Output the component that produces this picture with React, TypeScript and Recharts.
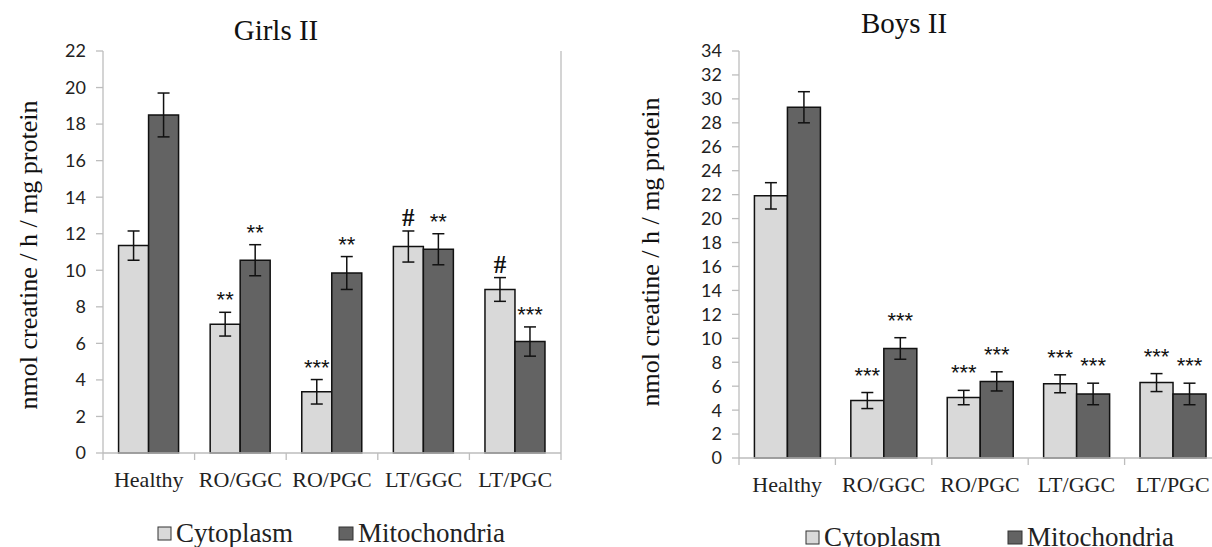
import React from 'react';
import { BarChart, Bar, XAxis, YAxis, ErrorBar, LabelList } from 'recharts';

const categories = ['Healthy', 'RO/GGC', 'RO/PGC', 'LT/GGC', 'LT/PGC'];

const girlsCytoplasm = [11.35, 7.05, 3.35, 11.3, 8.95];
const girlsCytoplasmErr = [0.8, 0.65, 0.67, 0.85, 0.65];
const girlsMitochondria = [18.5, 10.55, 9.85, 11.15, 6.1];
const girlsMitochondriaErr = [1.2, 0.85, 0.9, 0.85, 0.8];
const girlsCytoplasmMarks = ['', '**', '***', '#', '#'];
const girlsMitochondriaMarks = ['', '**', '**', '**', '***'];
const girlsTicks = [0, 2, 4, 6, 8, 10, 12, 14, 16, 18, 20, 22];

const boysCytoplasm = [21.9, 4.8, 5.05, 6.2, 6.3];
const boysCytoplasmErr = [1.1, 0.67, 0.6, 0.75, 0.75];
const boysMitochondria = [29.3, 9.15, 6.4, 5.35, 5.35];
const boysMitochondriaErr = [1.3, 0.9, 0.8, 0.9, 0.9];
const boysCytoplasmMarks = ['', '***', '***', '***', '***'];
const boysMitochondriaMarks = ['', '***', '***', '***', '***'];
const boysTicks = [0, 2, 4, 6, 8, 10, 12, 14, 16, 18, 20, 22, 24, 26, 28, 30, 32, 34];

const seriesNames = ['Cytoplasm', 'Mitochondria'];
const titles = ['Girls II', 'Boys II'];
const yAxisTitle = 'nmol creatine / h / mg protein';

const CYTO = '#d9d9d9';
const MITO = '#636363';
const AXIS = '#bdbdbd';
const SERIF = "'Liberation Serif', 'Times New Roman', Times, serif";
const SANS = 'Lato';

function buildData(cyto: number[], cytoErr: number[], mito: number[], mitoErr: number[]) {
  return categories.map((c, i) => ({
    name: c,
    cyto: cyto[i],
    cytoErr: cytoErr[i],
    mito: mito[i],
    mitoErr: mitoErr[i],
  }));
}

const CatTick = (props: any) => {
  const { x, y, payload, index, visibleTicksCount } = props;
  const half = payload && payload.offset ? payload.offset : 0;
  const isLast = index === (visibleTicksCount ?? 5) - 1;
  return (
    <g>
      <line x1={x - half} y1={y} x2={x - half} y2={y + 7} stroke={AXIS} strokeWidth={1.3} />
      {isLast && <line x1={x + half} y1={y} x2={x + half} y2={y + 7} stroke={AXIS} strokeWidth={1.3} />}
      <text x={x} y={y + 34} textAnchor="middle" fontFamily={SERIF} fontSize={22} fill="#222">
        {payload.value}
      </text>
    </g>
  );
};

const makeMark = (marks: string[], errs: number[], gap: number) => (props: any) => {
  const { x, y, width, height, value, index } = props;
  const mark = marks[index];
  if (!mark || !value) return null;
  const perUnit = height / value;
  const errTop = y - errs[index] * perUnit;
  const cx = x + width / 2;
  if (mark === '#') {
    return (
      <text x={cx} y={errTop - 13 + 8} textAnchor="middle" fontFamily={SERIF} fontSize={25} fontWeight={700} fill="#111">
        {mark}
      </text>
    );
  }
  return (
    <text x={cx} y={errTop - gap + 13} textAnchor="middle" fontFamily="Liberation Sans" fontSize={22} fill="#111">
      {mark}
    </text>
  );
};

type PanelProps = {
  data: any[];
  ticks: number[];
  width: number;
  margin: { top: number; right: number; bottom: number; left: number };
  cytoMarks: string[];
  mitoMarks: string[];
  cytoErr: number[];
  mitoErr: number[];
  starGap: number;
  gap: string;
};

function Panel(p: PanelProps) {
  const max = p.ticks[p.ticks.length - 1];
  return (
    <BarChart width={p.width} height={547} data={p.data} margin={p.margin} barCategoryGap={p.gap} barGap={0}>
      <XAxis
        xAxisId="top"
        orientation="top"
        dataKey="name"
        height={0}
        tick={false}
        tickLine={false}
        axisLine={{ stroke: AXIS, strokeWidth: 1.3 }}
      />
      <YAxis
        yAxisId="right"
        orientation="right"
        width={1}
        tick={false}
        tickLine={false}
        axisLine={{ stroke: AXIS, strokeWidth: 1.3 }}
        domain={[0, max]}
      />
      <XAxis
        dataKey="name"
        height={30}
        tickSize={0}
        tickMargin={0}
        interval={0}
        axisLine={{ stroke: AXIS, strokeWidth: 1.3 }}
        tick={<CatTick />}
      />
      <YAxis
        width={60}
        domain={[0, max]}
        ticks={p.ticks}
        interval={0}
        tickSize={7}
        tickMargin={10}
        axisLine={{ stroke: AXIS, strokeWidth: 1.3 }}
        tickLine={{ stroke: AXIS, strokeWidth: 1.3 }}
        tick={{ fontFamily: SANS, fontSize: 18, fill: '#222' }}
      />
      <Bar dataKey="cyto" name={seriesNames[0]} fill={CYTO} stroke="#111" strokeWidth={1.5} isAnimationActive={false}>
        <ErrorBar dataKey="cytoErr" width={6} stroke="#111" strokeWidth={1.5} direction="y" />
        <LabelList content={makeMark(p.cytoMarks, p.cytoErr, p.starGap) as any} />
      </Bar>
      <Bar dataKey="mito" name={seriesNames[1]} fill={MITO} stroke="#111" strokeWidth={1.5} isAnimationActive={false}>
        <ErrorBar dataKey="mitoErr" width={6} stroke="#111" strokeWidth={1.5} direction="y" />
        <LabelList content={makeMark(p.mitoMarks, p.mitoErr, p.starGap) as any} />
      </Bar>
    </BarChart>
  );
}

const LegendSvg = ({ x1, x2, cy }: { x1: number; x2: number; cy: number }) => (
  <g>
    <rect x={x1} y={cy - 6} width={13} height={13} fill={CYTO} stroke="#333" strokeWidth={1} />
    <text x={x1 + 18} y={cy + 9} fontFamily={SERIF} fontSize={27} fill="#222">{seriesNames[0]}</text>
    <rect x={x2} y={cy - 6} width={14} height={13} fill={MITO} stroke="#333" strokeWidth={1} />
    <text x={x2 + 19} y={cy + 9} fontFamily={SERIF} fontSize={27} fill="#222">{seriesNames[1]}</text>
  </g>
);

export default function App() {
  const girlsData = buildData(girlsCytoplasm, girlsCytoplasmErr, girlsMitochondria, girlsMitochondriaErr);
  const boysData = buildData(boysCytoplasm, boysCytoplasmErr, boysMitochondria, boysMitochondriaErr);
  return (
    <div style={{ position: 'absolute', left: 0, top: 0, width: 1212, height: 547, overflow: 'hidden', background: '#fff' }}>
      <div style={{ position: 'absolute', left: 0, top: 0 }}>
        <Panel
          data={girlsData}
          ticks={girlsTicks}
          width={600}
          margin={{ top: 51, right: 38, bottom: 64, left: 43 }}
          cytoMarks={girlsCytoplasmMarks}
          mitoMarks={girlsMitochondriaMarks}
          cytoErr={girlsCytoplasmErr}
          mitoErr={girlsMitochondriaErr}
          starGap={18}
          gap="17%"
        />
      </div>
      <div style={{ position: 'absolute', left: 600, top: 0 }}>
        <Panel
          data={boysData}
          ticks={boysTicks}
          width={660}
          margin={{ top: 51, right: 38, bottom: 59, left: 79 }}
          cytoMarks={boysCytoplasmMarks}
          mitoMarks={boysMitochondriaMarks}
          cytoErr={boysCytoplasmErr}
          mitoErr={boysMitochondriaErr}
          starGap={23}
          gap="16%"
        />
      </div>
      <svg width={1212} height={547} style={{ position: 'absolute', left: 0, top: 0, pointerEvents: 'none' }}>
        <text x={276} y={40} textAnchor="middle" fontFamily={SERIF} fontSize={29} fill="#111">{titles[0]}</text>
        <text x={904} y={33} textAnchor="middle" fontFamily={SERIF} fontSize={29} fill="#111">{titles[1]}</text>
        <text transform="translate(37,255) rotate(-90)" textAnchor="middle" fontFamily={SERIF} fontSize={26} fill="#111">{yAxisTitle}</text>
        <text transform="translate(659,252) rotate(-90)" textAnchor="middle" fontFamily={SERIF} fontSize={26} fill="#111">{yAxisTitle}</text>
        <LegendSvg x1={158} x2={339} cy={533} />
        <LegendSvg x1={806} x2={1008} cy={537} />
      </svg>
    </div>
  );
}
